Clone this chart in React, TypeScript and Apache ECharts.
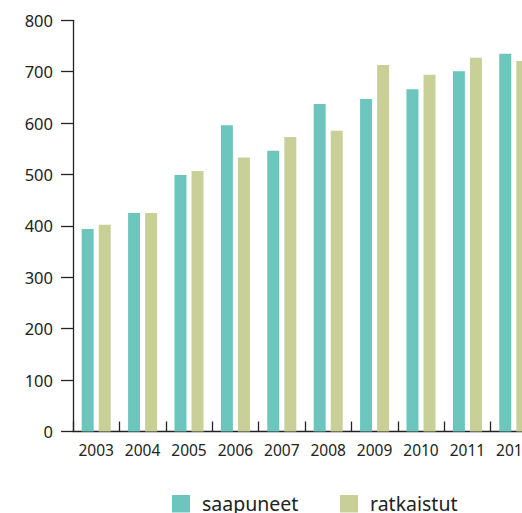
import React, { useEffect, useRef } from "react";
import * as echarts from "echarts";

const years = ["2003", "2004", "2005", "2006", "2007", "2008", "2009", "2010", "2011", "2012"];
const saapuneet = [394, 425, 499, 596, 546, 637, 647, 666, 701, 735];
const ratkaistut = [402, 425, 507, 533, 573, 585, 713, 694, 727, 721];
const yTicks = { min: 0, max: 800, interval: 100 };

const FONT = "'Noto Sans', Lato, sans-serif";
const TEXT = "#222";

export default function App() {
  const ref = useRef<HTMLDivElement>(null);
  useEffect(() => {
    if (!ref.current) return;
    const chart = echarts.init(ref.current, undefined, { renderer: "svg" });
    chart.setOption({
      animation: false,
      textStyle: { fontFamily: FONT },
      grid: {
        left: 73,
        top: 20.3,
        width: 464,
        height: 411.2,
        containLabel: false,
        outerBoundsMode: "none",
      },
      legend: {
        left: 172,
        top: 491.25,
        padding: 0,
        itemWidth: 18,
        itemHeight: 17.5,
        itemGap: 38,
        icon: "rect",
        textStyle: {
          fontSize: 19.5,
          lineHeight: 18,
          height: 18,
          width: 100,
          color: TEXT,
          fontFamily: FONT,
          padding: [0, 0, 7, 7],
        },
        data: ["saapuneet", "ratkaistut"],
      },
      xAxis: {
        type: "category",
        data: years,
        axisLine: { show: true, lineStyle: { color: TEXT, width: 1.3 } },
        axisTick: { show: true, inside: true, length: 10, interval: 0, lineStyle: { color: TEXT, width: 1.3 } },
        axisLabel: { color: TEXT, fontSize: 15.5, margin: 10, interval: 0, fontFamily: FONT },
        splitLine: { show: false },
      },
      yAxis: {
        type: "value",
        min: yTicks.min,
        max: yTicks.max,
        interval: yTicks.interval,
        axisLine: { show: true, lineStyle: { color: TEXT, width: 1.3 } },
        axisTick: { show: true, inside: false, length: 12, lineStyle: { color: TEXT, width: 1.3 } },
        axisLabel: { color: TEXT, fontSize: 16.5, margin: 20, fontFamily: FONT },
        splitLine: { show: false },
      },
      series: [
        {
          name: "saapuneet",
          type: "bar",
          data: saapuneet,
          barWidth: 12,
          barGap: "42%",
          itemStyle: { color: "#6cc6bd" },
        },
        {
          name: "ratkaistut",
          type: "bar",
          data: ratkaistut,
          barWidth: 12,
          barGap: "42%",
          itemStyle: { color: "#c8d098" },
        },
      ],
    });
    return () => chart.dispose();
  }, []);
  return (
    <div
      ref={ref}
      style={{ position: "absolute", left: 0, top: 0, width: 522, height: 513, background: "#fff" }}
    />
  );
}
